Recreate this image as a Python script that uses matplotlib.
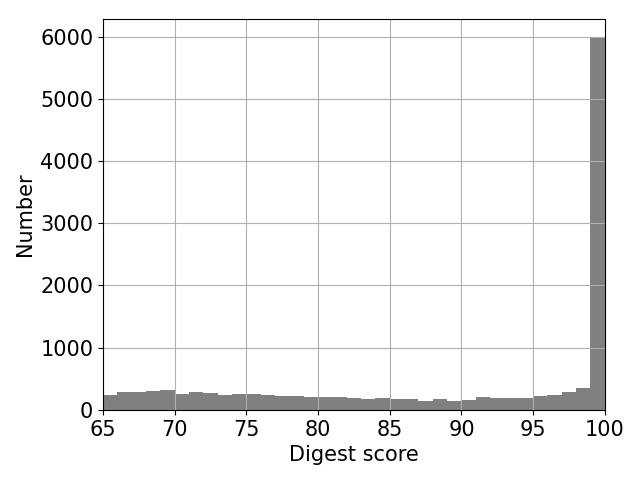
import matplotlib
matplotlib.use("Agg")
import matplotlib.pyplot as plt

# histogram of digest scores, 1-point bins from 65 to 100
bin_left = list(range(65, 100))
counts = [240, 288, 288, 304, 320, 256, 288, 272, 240, 256,
          256, 240, 224, 224, 208, 208, 208, 192, 176, 192,
          176, 176, 144, 176, 144, 160, 208, 192, 192, 192,
          224, 240, 288, 352, 5990]

plt.rcParams["font.size"] = 15

fig, ax = plt.subplots(figsize=(6.4, 4.8), dpi=100)
ax.bar(bin_left, counts, width=1.0, align="edge", color="gray")
ax.set_xlim(65, 100)
ax.set_ylim(0, 6280)
ax.set_xlabel("Digest score")
ax.set_ylabel("Number")
ax.grid(True)
fig.subplots_adjust(left=0.161, right=0.945, bottom=0.146, top=0.960)
fig.savefig("out.png")
